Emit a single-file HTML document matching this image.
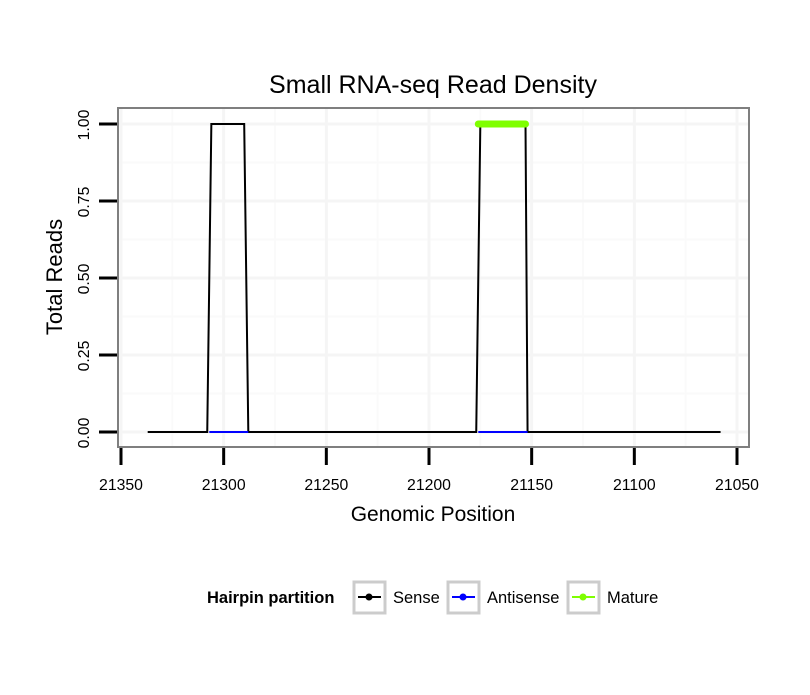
<!DOCTYPE html>
<html><head><meta charset="utf-8"><style>
body{margin:0;background:#fff}
text{font-family:"Liberation Sans",sans-serif}
</style></head><body>
<svg id="c" width="810" height="690" viewBox="0 0 810 690"></svg>
<script>
const senseX=[21337,21308,21306,21290,21288,21177,21175,21153,21152,21058];
const senseY=[0,0,1,1,0,0,1,1,0,0];
const antiSegs=[[21307,21288],[21176,21152]];
const matureSeg=[[21176,21153]];
const xTicks=[21350,21300,21250,21200,21150,21100,21050];
const xMinor=[21325,21275,21225,21175,21125,21075];
const yTicks=[0,0.25,0.5,0.75,1];
const yLabels=["0.00","0.25","0.50","0.75","1.00"];
const yMinor=[0.125,0.375,0.625,0.875];
const NS="http://www.w3.org/2000/svg";
const svg=document.getElementById('c');
const X=v=>121+(21350-v)*616/300;
const Y=v=>432-v*308;
function el(t,a,p){const e=document.createElementNS(NS,t);for(const k in a)e.setAttribute(k,a[k]);(p||svg).appendChild(e);return e;}
const L=118,R=749,T=108,B=447;
let bg=el('rect',{x:L,y:T,width:R-L,height:B-T,fill:'#fff'});


xMinor.forEach(v=>{let g=el('line',{x1:X(v),x2:X(v),y1:T,y2:B,stroke:'#fafafa','stroke-width':2});});
yMinor.forEach(v=>{let g=el('line',{x1:L,x2:R,y1:Y(v),y2:Y(v),stroke:'#fafafa','stroke-width':2});});
xTicks.forEach(v=>{let g=el('line',{x1:X(v),x2:X(v),y1:T,y2:B,stroke:'#f5f5f5','stroke-width':3});});
yTicks.forEach(v=>{let g=el('line',{x1:L,x2:R,y1:Y(v),y2:Y(v),stroke:'#f5f5f5','stroke-width':3});});
let pts=senseX.map((v,i)=>X(v)+','+Y(senseY[i])).join(' ');
let sl=el('polyline',{points:pts,fill:'none',stroke:'#000','stroke-width':2});


antiSegs.forEach(s=>{let a=el('line',{x1:X(s[0]),x2:X(s[1]),y1:Y(0),y2:Y(0),stroke:'#0000ff','stroke-width':2});});
matureSeg.forEach(s=>{let m=el('line',{x1:X(s[0]),x2:X(s[1]),y1:Y(1),y2:Y(1),stroke:'#7fff00','stroke-width':7,'stroke-linecap':'round'});});
let br=el('rect',{x:L,y:T,width:R-L,height:B-T,fill:'none',stroke:'#7f7f7f','stroke-width':2});


xTicks.forEach(v=>{
 let t=el('line',{x1:X(v),x2:X(v),y1:448,y2:465,stroke:'#000','stroke-width':3});
 
 
 let tx=el('text',{x:X(v),y:490,'font-size':15.8,'text-anchor':'middle'});tx.textContent=v;
 
 
});
yTicks.forEach((v,i)=>{
 let t=el('line',{x1:99,x2:117,y1:Y(v),y2:Y(v),stroke:'#000','stroke-width':3});
 
 
 let tx=el('text',{x:0,y:0,'font-size':15.8,'text-anchor':'middle',transform:`translate(89,${Y(v)+1}) rotate(-90)`});tx.textContent=yLabels[i];
 
 
});
</script>
<svg width="810" height="690" style="position:absolute;left:0;top:0">
<text x="433" y="93" font-size="25" text-anchor="middle">Small RNA-seq Read Density</text>
<text x="433" y="521" font-size="21" text-anchor="middle">Genomic Position</text>
<text transform="translate(62,277) rotate(-90)" font-size="22" text-anchor="middle">Total Reads</text>
<text x="207" y="603" font-size="16.5" font-weight="bold">Hairpin partition</text>
<g>
<rect x="354" y="582" width="31" height="31" fill="#fff" stroke="#ccc" stroke-width="3"/>
<line x1="358" x2="381" y1="597" y2="597" stroke="#000" stroke-width="2"/><circle cx="369" cy="597" r="3.5" fill="#000"/>
<text x="393" y="603" font-size="16.5">Sense</text></g>
<g>
<rect x="448" y="582" width="31" height="31" fill="#fff" stroke="#ccc" stroke-width="3"/>
<line x1="452" x2="475" y1="597" y2="597" stroke="#00f" stroke-width="2"/><circle cx="463" cy="597" r="3.5" fill="#00f"/>
<text x="487" y="603" font-size="16.5">Antisense</text></g>
<g>
<rect x="568" y="582" width="31" height="31" fill="#fff" stroke="#ccc" stroke-width="3"/>
<line x1="572" x2="595" y1="597" y2="597" stroke="#7fff00" stroke-width="2"/><circle cx="583" cy="597" r="3.5" fill="#7fff00"/>
<text x="607" y="603" font-size="16.5">Mature</text></g>
</svg>
</body></html>
